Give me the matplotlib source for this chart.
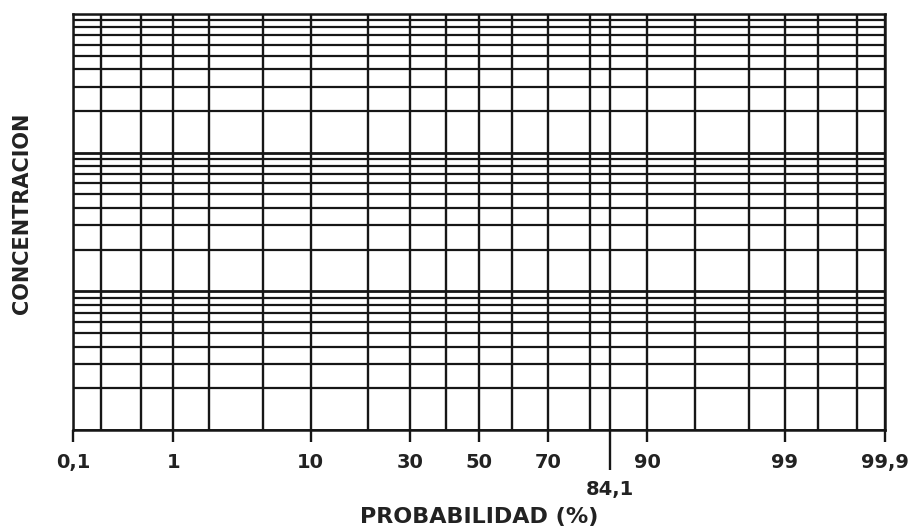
import numpy as np
import matplotlib
matplotlib.use("Agg")
import matplotlib.pyplot as plt
from statistics import NormalDist

# Probability (%) grid lines and labelled ticks
prob_grid = [0.1, 0.2, 0.5, 1, 2, 5, 10, 20, 30, 40, 50, 60, 70, 80, 84.1,
             90, 95, 98, 99, 99.5, 99.8, 99.9]
prob_ticks = [0.1, 1, 10, 30, 50, 70, 90, 99, 99.9]
prob_labels = ["0,1", "1", "10", "30", "50", "70", "90", "99", "99,9"]
median_sigma = 84.1
median_sigma_label = "84,1"

# Log concentration grid: 1..9 in each of three decades, up to 1000
decades = [1, 10, 100]
mantissas = [1, 2, 3, 4, 5, 6, 7, 8, 9]
conc_top = 1000

_nd = NormalDist()


def _to_z(p):
    p = np.clip(np.asarray(p, dtype=float), 1e-6, 100 - 1e-6)
    return np.vectorize(lambda v: _nd.inv_cdf(v / 100.0))(p)


def _from_z(z):
    return np.vectorize(lambda v: _nd.cdf(v) * 100.0)(np.asarray(z, dtype=float))


plt.rcParams['font.family'] = ['DejaVu Sans']

fig = plt.figure(figsize=(9.22, 5.32), dpi=100)
ax = fig.add_axes([0.0792, 0.1917, 0.8808, 0.782])

ax.set_xscale('function', functions=(_to_z, _from_z))
ax.set_yscale('log')
ax.set_xlim(prob_grid[0], prob_grid[-1])
ax.set_ylim(decades[0], conc_top)

line_col = '#161616'
text_col = '#222222'

# horizontal lines
conc_lines = [d * m for d in decades for m in mantissas] + [conc_top]
for c in conc_lines:
    lw = 2.0 if c in decades else 1.6
    ax.axhline(c, color=line_col, lw=lw, zorder=2)

# vertical lines
for p in prob_grid:
    ax.axvline(p, color=line_col, lw=1.7, zorder=2)

for s in ax.spines.values():
    s.set_color(line_col)
    s.set_linewidth(1.8)

ax.set_xticks(prob_ticks)
ax.set_xticklabels(prob_labels)
ax.set_xticks([median_sigma], minor=True)
ax.set_xticklabels([median_sigma_label], minor=True)
ax.tick_params(axis='x', which='major', direction='out', length=8.5, width=1.7,
               color=line_col, pad=8, labelsize=14, labelcolor=text_col)
ax.tick_params(axis='x', which='minor', direction='out', length=29, width=1.7,
               color=line_col, pad=7, labelsize=14, labelcolor=text_col)
for lbl in ax.get_xticklabels(which='both'):
    lbl.set_fontweight('bold')
ax.tick_params(axis='y', which='both', left=False, labelleft=False)

ax.set_xlabel("PROBABILIDAD (%)", fontsize=16, fontweight='bold',
              color=text_col, labelpad=6)
ax.set_ylabel("CONCENTRACION", fontsize=15, fontweight='bold', color=text_col)
ax.yaxis.set_label_coords(-0.050, 0.522)

fig.savefig("out.png", dpi=100, facecolor='white')
